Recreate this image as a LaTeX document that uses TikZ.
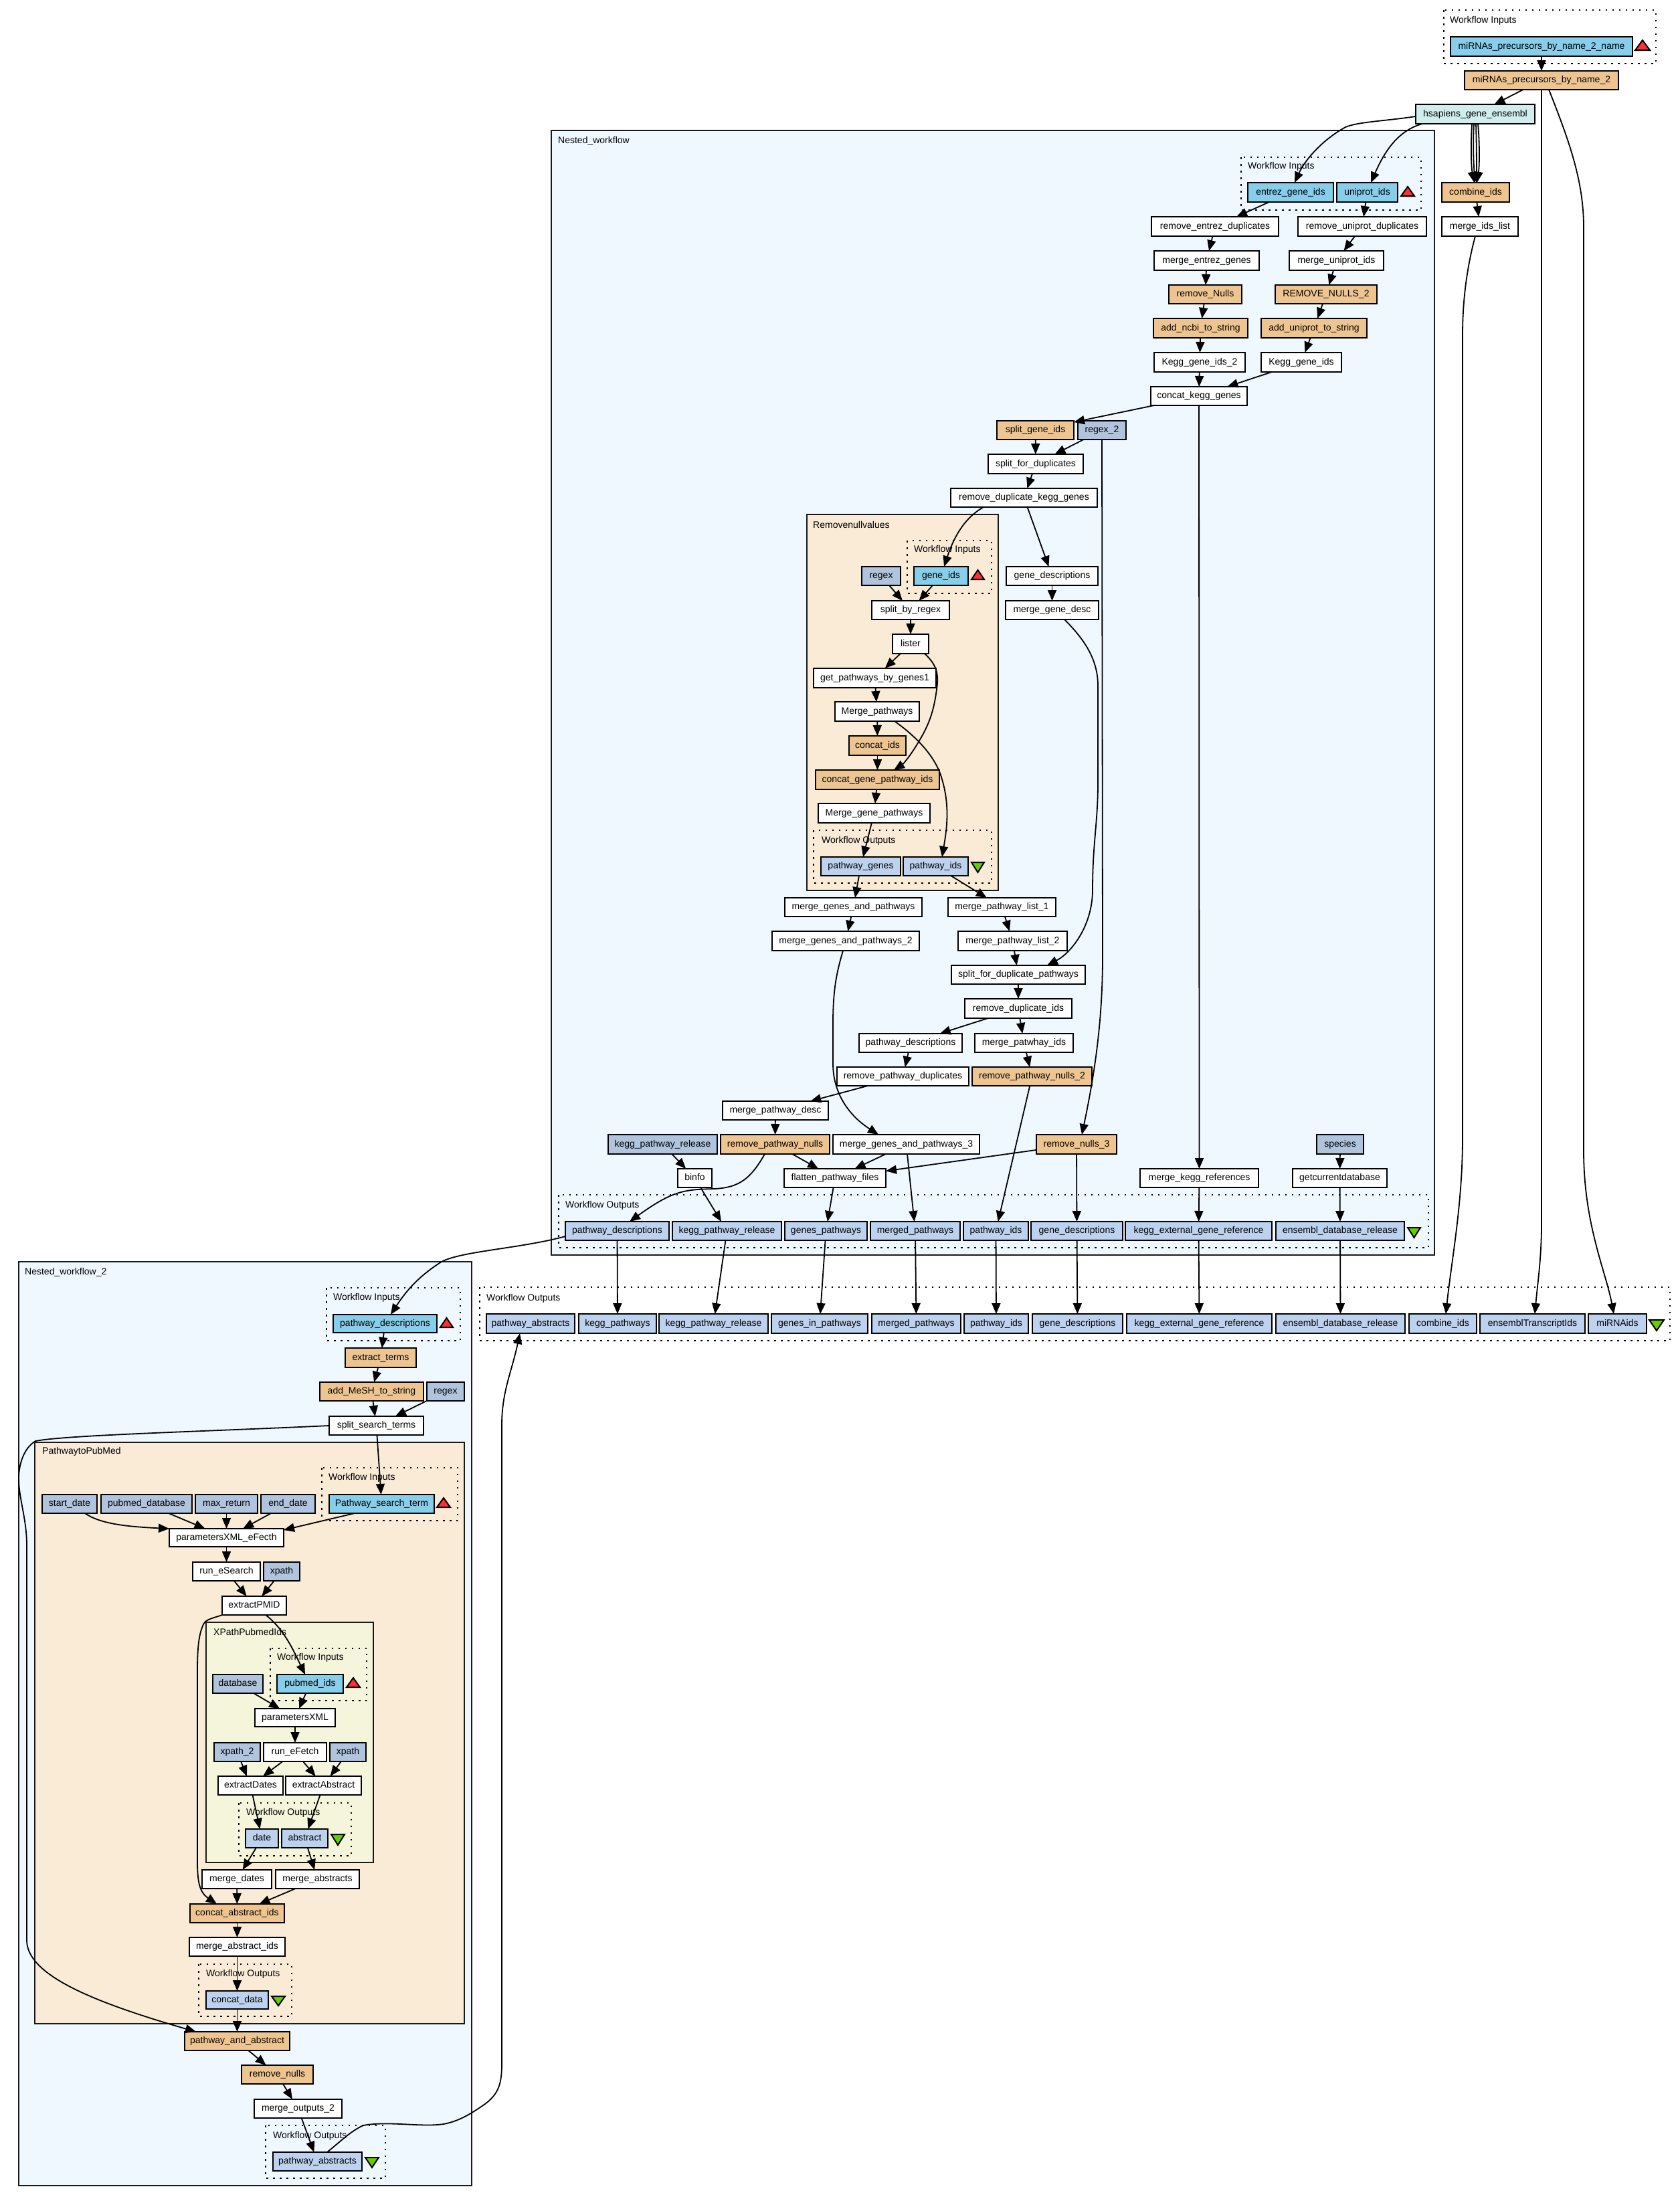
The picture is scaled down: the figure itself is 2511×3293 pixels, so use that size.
\documentclass[tikz,border=0pt]{standalone}
\usepackage{fontspec}
\setmainfont{Liberation Sans}
\usetikzlibrary{arrows.meta}
\definecolor{cwhite}{HTML}{FFFFFF}
\definecolor{corange}{HTML}{EEC591}
\definecolor{cinput}{HTML}{87CEEB}
\definecolor{cvalue}{HTML}{B0C4DE}
\definecolor{coutput}{HTML}{BCD2EE}
\definecolor{ccyan}{HTML}{D1EEEE}
\definecolor{cnest}{HTML}{F0F8FF}
\definecolor{cantique}{HTML}{FAEBD7}
\definecolor{cbeige}{HTML}{F5F5DC}
\definecolor{cred}{HTML}{FF3030}
\definecolor{cgreen}{HTML}{66CD00}
\tikzset{
  boxbase/.style={draw=black,line width=2.2pt,inner sep=0pt,outer sep=0pt,font=\fontsize{14}{16}\selectfont,text height=10pt,text depth=3pt,align=center},
  wbox/.style={boxbase,fill=cwhite},
  obox/.style={boxbase,fill=corange},
  ibox/.style={boxbase,fill=cinput},
  vbox/.style={boxbase,fill=cvalue},
  ubox/.style={boxbase,fill=coutput},
  cbox/.style={boxbase,fill=ccyan},
  arr/.style={-{Triangle[length=16pt,width=13pt]},line width=1.8pt,black},
  framebox/.style={draw=black!90,line width=2.5pt},
  dotbox/.style={draw=black,line width=2.5pt,dash pattern=on 2.5pt off 7.5pt},
  flabel/.style={anchor=west,inner sep=0pt,yshift=-1.5pt,font=\fontsize{14}{16}\selectfont},
  trimark/.style={draw=black,line width=2pt,line join=miter},
}
\newcommand{\bx}[7]{\node[#1,minimum width={#4-#3},minimum height={#6-#5}] (#2) at ({(#3+#4)/2},{(#5+#6)/2}) {#7};}
\newcommand{\lab}[4]{\node[flabel] (#1) at (#2,#3) {#4};}
\newcommand{\trup}[4]{\draw[trimark,fill=cred] (#1,#4) -- (#2,#4) -- ({(#1+#2)/2},#3) -- cycle;}
\newcommand{\trdn}[4]{\draw[trimark,fill=cgreen] (#1,#3) -- (#2,#3) -- ({(#1+#2)/2},#4) -- cycle;}
\begin{document}
\begin{tikzpicture}[x=1pt,y=-1pt]
\useasboundingbox[fill=white] (0,0) rectangle (2511,3293);
% frames
\draw[framebox,fill=cnest] (824,195) rectangle (2144,1876);
\draw[framebox,fill=cantique] (1206,769) rectangle (1492,1331);
\draw[framebox,fill=cnest] (28,1886) rectangle (705,3267);
\draw[framebox,fill=cantique] (52,2156) rectangle (694,3025);
\draw[framebox,fill=cbeige] (308,2425) rectangle (558,2784);
% dotted groups
\draw[dotbox] (2158,15) rectangle (2475,95);
\draw[dotbox] (1855,235) rectangle (2124,314);
\draw[dotbox] (1356,808) rectangle (1482,887);
\draw[dotbox] (1216,1241) rectangle (1482,1320);
\draw[dotbox] (835,1786) rectangle (2135,1865);
\draw[dotbox] (717,1924) rectangle (2496,2004);
\draw[dotbox] (488,1925) rectangle (688,2004);
\draw[dotbox] (481,2194) rectangle (684,2273);
\draw[dotbox] (404,2464) rectangle (548,2542);
\draw[dotbox] (357,2695) rectangle (525,2774);
\draw[dotbox] (297,2936) rectangle (436,3014);
\draw[dotbox] (397,3177) rectangle (576,3256);
% labels
\lab{lA}{834}{209}{Nested\_workflow}
\lab{lB}{1215}{783}{Removenullvalues}
\lab{lC}{37}{1900}{Nested\_workflow\_2}
\lab{lD}{63}{2168}{PathwaytoPubMed}
\lab{lE}{319}{2438}{XPathPubmedIds}
\lab{wa}{2167}{29}{Workflow Inputs}
\lab{wb}{1865}{247}{Workflow Inputs}
\lab{wc}{1366}{820}{Workflow Inputs}
\lab{wd}{1228}{1255}{Workflow Outputs}
\lab{we}{845}{1800}{Workflow Outputs}
\lab{wf}{727}{1939}{Workflow Outputs}
\lab{wg}{498}{1938}{Workflow Inputs}
\lab{wh}{491}{2207}{Workflow Inputs}
\lab{wi}{414}{2476}{Workflow Inputs}
\lab{wj}{368}{2708}{Workflow Outputs}
\lab{wk}{308}{2949}{Workflow Outputs}
\lab{wl}{408}{3191}{Workflow Outputs}
% top
\bx{ibox}{mirin}{2168}{2440}{55}{84}{miRNAs\_precursors\_by\_name\_2\_name}
\trup{2444}{2466}{60}{75}
\bx{obox}{mir}{2189}{2419}{106}{134}{miRNAs\_precursors\_by\_name\_2}
\bx{cbox}{hsap}{2116}{2294}{156}{185}{hsapiens\_gene\_ensembl}
\bx{obox}{combine}{2155}{2256}{273}{302}{combine\_ids}
\bx{wbox}{mergeids}{2155}{2269}{324}{353}{merge\_ids\_list}
% nested workflow
\bx{ibox}{entrez}{1865}{1993}{273}{302}{entrez\_gene\_ids}
\bx{ibox}{uniprot}{1998}{2089}{273}{302}{uniprot\_ids}
\trup{2094}{2114}{279}{293}
\bx{wbox}{redup}{1721}{1911}{324}{353}{remove\_entrez\_duplicates}
\bx{wbox}{rudup}{1940}{2132}{324}{353}{remove\_uniprot\_duplicates}
\bx{wbox}{megenes}{1725}{1882}{375}{404}{merge\_entrez\_genes}
\bx{wbox}{muids}{1927}{2068}{375}{404}{merge\_uniprot\_ids}
\bx{obox}{rnulls}{1747}{1856}{426}{454}{remove\_Nulls}
\bx{obox}{rnullstwo}{1906}{2058}{426}{454}{REMOVE\_NULLS\_2}
\bx{obox}{addncbi}{1724}{1865}{476}{505}{add\_ncbi\_to\_string}
\bx{obox}{adduni}{1885}{2043}{476}{505}{add\_uniprot\_to\_string}
\bx{wbox}{keggtwo}{1725}{1861}{527}{556}{Kegg\_gene\_ids\_2}
\bx{wbox}{kegg}{1885}{2005}{527}{556}{Kegg\_gene\_ids}
\bx{wbox}{ckegg}{1720}{1864}{578}{606}{concat\_kegg\_genes}
\bx{obox}{splitg}{1490}{1605}{629}{657}{split\_gene\_ids}
\bx{vbox}{regextwo}{1611}{1683}{629}{657}{regex\_2}
\bx{wbox}{splitd}{1477}{1619}{679}{708}{split\_for\_duplicates}
\bx{wbox}{rdkg}{1421}{1640}{730}{758}{remove\_duplicate\_kegg\_genes}
% removenull
\bx{vbox}{regex}{1288}{1346}{847}{875}{regex}
\bx{ibox}{geneids}{1366}{1447}{847}{875}{gene\_ids}
\trup{1452}{1471}{852}{866}
\bx{wbox}{gdesc}{1504}{1641}{847}{875}{gene\_descriptions}
\bx{wbox}{sbr}{1303}{1419}{898}{926}{split\_by\_regex}
\bx{wbox}{mgd}{1503}{1642}{898}{926}{merge\_gene\_desc}
\bx{wbox}{lister}{1334}{1388}{948}{977}{lister}
\bx{wbox}{gpbg}{1216}{1399}{999}{1028}{get\_pathways\_by\_genes1}
\bx{wbox}{mpath}{1248}{1374}{1049}{1078}{Merge\_pathways}
\bx{obox}{cids}{1269}{1354}{1100}{1129}{concat\_ids}
\bx{obox}{cgpi}{1219}{1404}{1151}{1180}{concat\_gene\_pathway\_ids}
\bx{wbox}{mgenep}{1223}{1390}{1201}{1230}{Merge\_gene\_pathways}
\bx{ubox}{pgenes}{1227}{1346}{1281}{1309}{pathway\_genes}
\bx{ubox}{pids}{1350}{1447}{1281}{1309}{pathway\_ids}
\trdn{1452}{1471}{1289}{1304}
\bx{wbox}{mgp}{1173}{1378}{1342}{1370}{merge\_genes\_and\_pathways}
\bx{wbox}{mplo}{1417}{1578}{1342}{1370}{merge\_pathway\_list\_1}
\bx{wbox}{mgptwo}{1154}{1374}{1392}{1421}{merge\_genes\_and\_pathways\_2}
\bx{wbox}{mpltwo}{1432}{1595}{1392}{1421}{merge\_pathway\_list\_2}
\bx{wbox}{sfdp}{1422}{1622}{1443}{1471}{split\_for\_duplicate\_pathways}
\bx{wbox}{rdi}{1442}{1602}{1493}{1522}{remove\_duplicate\_ids}
\bx{wbox}{pdesc}{1284}{1438}{1545}{1573}{pathway\_descriptions}
\bx{wbox}{mpi}{1457}{1604}{1545}{1573}{merge\_patwhay\_ids}
\bx{wbox}{rpd}{1251}{1448}{1595}{1623}{remove\_pathway\_duplicates}
\bx{obox}{rpntwo}{1453}{1632}{1595}{1623}{remove\_pathway\_nulls\_2}
\bx{wbox}{mpdesc}{1080}{1238}{1646}{1674}{merge\_pathway\_desc}
\bx{vbox}{kpr}{909}{1072}{1696}{1725}{kegg\_pathway\_release}
\bx{obox}{rpn}{1077}{1240}{1696}{1725}{remove\_pathway\_nulls}
\bx{wbox}{mgpthree}{1245}{1464}{1696}{1725}{merge\_genes\_and\_pathways\_3}
\bx{obox}{rnthree}{1549}{1669}{1696}{1725}{remove\_nulls\_3}
\bx{vbox}{species}{1968}{2038}{1696}{1725}{species}
\bx{wbox}{binfo}{1013}{1064}{1747}{1775}{binfo}
\bx{wbox}{fpf}{1172}{1324}{1747}{1775}{flatten\_pathway\_files}
\bx{wbox}{mkr}{1704}{1881}{1747}{1775}{merge\_kegg\_references}
\bx{wbox}{gcd}{1932}{2073}{1747}{1775}{getcurrentdatabase}
% nested outputs
\bx{ubox}{npd}{845}{1000}{1826}{1854}{pathway\_descriptions}
\bx{ubox}{nkpr}{1005}{1168}{1826}{1854}{kegg\_pathway\_release}
\bx{ubox}{ngp}{1173}{1296}{1826}{1854}{genes\_pathways}
\bx{ubox}{nmp}{1301}{1435}{1826}{1854}{merged\_pathways}
\bx{ubox}{npi}{1440}{1537}{1826}{1854}{pathway\_ids}
\bx{ubox}{ngd}{1541}{1678}{1826}{1854}{gene\_descriptions}
\bx{ubox}{nke}{1682}{1901}{1826}{1854}{kegg\_external\_gene\_reference}
\bx{ubox}{nedr}{1907}{2099}{1826}{1854}{ensembl\_database\_release}
\trdn{2104}{2123}{1835}{1850}
% workflow outputs
\bx{ubox}{opa}{727}{859}{1964}{1993}{pathway\_abstracts}
\bx{ubox}{okp}{865}{981}{1964}{1993}{kegg\_pathways}
\bx{ubox}{okpr}{985}{1148}{1964}{1993}{kegg\_pathway\_release}
\bx{ubox}{ogip}{1153}{1297}{1964}{1993}{genes\_in\_pathways}
\bx{ubox}{omp}{1303}{1436}{1964}{1993}{merged\_pathways}
\bx{ubox}{opi}{1441}{1537}{1964}{1993}{pathway\_ids}
\bx{ubox}{ogd}{1543}{1678}{1964}{1993}{gene\_descriptions}
\bx{ubox}{oke}{1684}{1901}{1964}{1993}{kegg\_external\_gene\_reference}
\bx{ubox}{oedr}{1907}{2100}{1964}{1993}{ensembl\_database\_release}
\bx{ubox}{oci}{2106}{2207}{1964}{1993}{combine\_ids}
\bx{ubox}{oet}{2212}{2369}{1964}{1993}{ensemblTranscriptIds}
\bx{ubox}{omi}{2374}{2461}{1964}{1993}{miRNAids}
\trdn{2465}{2487}{1973}{1989}
% nested workflow 2
\bx{ibox}{ipd}{498}{653}{1965}{1992}{pathway\_descriptions}
\trup{658}{677}{1970}{1984}
\bx{obox}{eterms}{516}{622}{2015}{2044}{extract\_terms}
\bx{obox}{amesh}{478}{633}{2066}{2094}{add\_MeSH\_to\_string}
\bx{vbox}{regexb}{638}{694}{2066}{2094}{regex}
\bx{wbox}{sst}{492}{633}{2117}{2145}{split\_search\_terms}
\bx{vbox}{sdate}{63}{145}{2234}{2262}{start\_date}
\bx{vbox}{pdb}{151}{287}{2234}{2262}{pubmed\_database}
\bx{vbox}{mret}{292}{385}{2234}{2262}{max\_return}
\bx{vbox}{edate}{390}{471}{2234}{2262}{end\_date}
\bx{ibox}{pst}{492}{649}{2234}{2262}{Pathway\_search\_term}
\trup{653}{673}{2239}{2253}
\bx{wbox}{pxe}{253}{424}{2285}{2312}{parametersXML\_eFecth}
\bx{wbox}{res}{288}{389}{2335}{2363}{run\_eSearch}
\bx{vbox}{xpa}{394}{448}{2335}{2363}{xpath}
\bx{wbox}{epmid}{332}{428}{2386}{2414}{extractPMID}
\bx{vbox}{dbase}{318}{393}{2503}{2531}{database}
\bx{ibox}{pmids}{414}{513}{2503}{2531}{pubmed\_ids}
\trup{518}{538}{2508}{2522}
\bx{wbox}{pxml}{381}{501}{2554}{2581}{parametersXML}
\bx{vbox}{xptwo}{320}{389}{2605}{2633}{xpath\_2}
\bx{wbox}{ref}{394}{488}{2605}{2633}{run\_eFetch}
\bx{vbox}{xpb}{493}{547}{2605}{2633}{xpath}
\bx{wbox}{edates}{326}{423}{2655}{2683}{extractDates}
\bx{wbox}{eabs}{427}{540}{2655}{2683}{extractAbstract}
\bx{ubox}{date}{367}{416}{2734}{2762}{date}
\bx{ubox}{abst}{421}{490}{2734}{2762}{abstract}
\trdn{495}{515}{2742}{2758}
\bx{wbox}{mdates}{302}{406}{2795}{2823}{merge\_dates}
\bx{wbox}{mabs}{412}{537}{2795}{2823}{merge\_abstracts}
\bx{obox}{cai}{284}{425}{2846}{2874}{concat\_abstract\_ids}
\bx{wbox}{mai}{283}{426}{2896}{2924}{merge\_abstract\_ids}
\bx{ubox}{cdata}{308}{401}{2976}{3003}{concat\_data}
\trdn{406}{426}{2984}{2998}
\bx{obox}{paa}{276}{433}{3037}{3065}{pathway\_and\_abstract}
\bx{obox}{rnl}{361}{468}{3087}{3115}{remove\_nulls}
\bx{wbox}{motwo}{380}{511}{3138}{3166}{merge\_outputs\_2}
\bx{ubox}{pabs}{408}{541}{3217}{3245}{pathway\_abstracts}
\trdn{546}{566}{3225}{3240}
% straight connectors
\foreach \a/\b in {mirin/mir,mir/hsap,combine/mergeids,entrez/redup,uniprot/rudup,redup/megenes,rudup/muids,megenes/rnulls,muids/rnullstwo,rnulls/addncbi,rnullstwo/adduni,addncbi/keggtwo,adduni/kegg,keggtwo/ckegg,kegg/ckegg,ckegg/splitg,ckegg/mkr,splitg/splitd,regextwo/splitd,splitd/rdkg,rdkg/gdesc,gdesc/mgd,regex/sbr,geneids/sbr,sbr/lister,lister/gpbg,gpbg/mpath,mpath/cids,cids/cgpi,cgpi/mgenep,mgenep/pgenes,pgenes/mgp,pids/mplo,mgp/mgptwo,mplo/mpltwo,mpltwo/sfdp,sfdp/rdi,rdi/pdesc,rdi/mpi,pdesc/rpd,mpi/rpntwo,rpd/mpdesc,mpdesc/rpn,rpntwo/npi,kpr/binfo,binfo/nkpr,rpn/fpf,mgpthree/fpf,rnthree/fpf,mgpthree/nmp,fpf/ngp,rnthree/ngd,mkr/nke,species/gcd,gcd/nedr,npd/okp,nkpr/okpr,ngp/ogip,nmp/omp,npi/opi,ngd/ogd,nke/oke,nedr/oedr,ipd/eterms,eterms/amesh,amesh/sst,regexb/sst,sst/pst,pdb/pxe,mret/pxe,edate/pxe,pxe/res,res/epmid,xpa/epmid,dbase/pxml,pmids/pxml,pxml/ref,xptwo/edates,ref/edates,ref/eabs,xpb/eabs,edates/date,eabs/abst,date/mdates,abst/mabs,mdates/cai,mabs/cai,cai/mai,mai/cdata,cdata/paa,paa/rnl,rnl/motwo,motwo/pabs}
  {\draw[arr] (\a) -- (\b);}
\draw[arr] ([xshift=-40.5]pst.south) -- ([yshift=-2]pxe.north east);
% curved connectors
\draw[arr] ([yshift=-3.5]hsap.west) .. controls (2070,181) and (2030,182) .. (2011,190) .. controls (1975,210) and (1950,240) .. ([xshift=6]entrez.north);
\draw[arr] ([xshift=-79]hsap.south) .. controls (2090,195) and (2070,225) .. ([xshift=5.5]uniprot.north);
\draw[arr] ([xshift=-5]hsap.south) .. controls (2198,220) and (2199,250) .. ([xshift=-2]combine.north);
\draw[arr] ([xshift=-2]hsap.south) .. controls (2201,220) and (2203,250) .. ([xshift=-1]combine.north);
\draw[arr] ([xshift=1]hsap.south) .. controls (2207,220) and (2207,250) .. ([xshift=1]combine.north);
\draw[arr] ([xshift=4]hsap.south) .. controls (2212,220) and (2211,250) .. ([xshift=2]combine.north);
\draw[arr] (mir.south) -- (2304,1830) .. controls (2304,1880) and (2298,1920) .. ([xshift=3.5]oet.north);
\draw[arr] ([xshift=11]mir.south) .. controls (2345,210) and (2367,270) .. (2367,340) -- (2367,1720) .. controls (2367,1830) and (2400,1900) .. ([xshift=-5.5]omi.north);
\draw[arr] ([xshift=-7]mergeids.south) .. controls (2195,390) and (2186,440) .. (2186,500) -- (2186,1700) .. controls (2186,1800) and (2170,1880) .. ([xshift=4.5]oci.north);
\draw[arr] (regextwo.south) -- (1648,1430) .. controls (1648,1530) and (1635,1610) .. ([xshift=8]rnthree.north);
\draw[arr] ([xshift=-60.5]rdkg.south) .. controls (1440,775) and (1425,805) .. ([xshift=4.5]geneids.north);
\draw[arr] ([xshift=18.5]mgd.south) .. controls (1620,955) and (1641,985) .. (1641,1025) -- (1641,1170) .. controls (1641,1230) and (1633,1260) .. (1633,1330) .. controls (1633,1385) and (1600,1425) .. ([xshift=43]sfdp.north);
\draw[arr] ([xshift=21]lister.south) .. controls (1398,992) and (1404,1005) .. (1400,1030) .. controls (1395,1070) and (1385,1090) .. (1368,1117) .. controls (1360,1130) and (1350,1142) .. ([xshift=24.5]cgpi.north);
\draw[arr] ([xshift=26]mpath.south) .. controls (1375,1105) and (1400,1135) .. (1408,1165) .. controls (1420,1205) and (1415,1240) .. ([xshift=9.5]pids.north);
\draw[arr] ([xshift=-4]mgptwo.south) .. controls (1250,1455) and (1245,1480) .. (1245,1530) -- (1245,1590) .. controls (1245,1630) and (1265,1665) .. ([xshift=-41.5]mgpthree.north);
\draw[arr] ([xshift=-15.5]rpn.south) .. controls (1122,1762) and (1105,1775) .. (1068,1777) .. controls (1022,1778) and (1005,1780) .. ([xshift=18.5]npd.north);
\draw[arr] ([yshift=-8]npd.west) .. controls (780,1866) and (690,1870) .. (660,1886) .. controls (630,1905) and (610,1925) .. ([xshift=8.5]ipd.north);
\draw[arr] (sst.west) .. controls (300,2140) and (100,2145) .. (53,2154) .. controls (35,2165) and (28,2190) .. (28,2210) .. controls (28,2240) and (40,2270) .. (40,2310) -- (40,2900) .. controls (40,2950) and (130,2990) .. ([xshift=-61.5]paa.north);
\draw[arr] ([xshift=23]sdate.south) .. controls (150,2278) and (190,2282) .. (pxe.north west);
\draw[arr] ([xshift=17]epmid.south) .. controls (425,2435) and (440,2470) .. ([xshift=-7.5]pmids.north);
\draw[arr] (epmid.south west) .. controls (318,2419) and (308,2420) .. (304,2428) .. controls (296,2445) and (295,2470) .. (295,2500) -- (295,2750) .. controls (295,2800) and (293,2825) .. ([xshift=-30.5]cai.north);
\draw[arr] ([xshift=14.5]pabs.north) .. controls (510,3200) and (525,3185) .. (543,3177) .. controls (580,3170) and (630,3180) .. (663,3175) .. controls (690,3170) and (710,3155) .. (725,3145) .. controls (745,3130) and (750,3115) .. (750,3085) -- (750,2130) .. controls (750,2080) and (765,2050) .. ([xshift=-16]opa.south);
\end{tikzpicture}
\end{document}
